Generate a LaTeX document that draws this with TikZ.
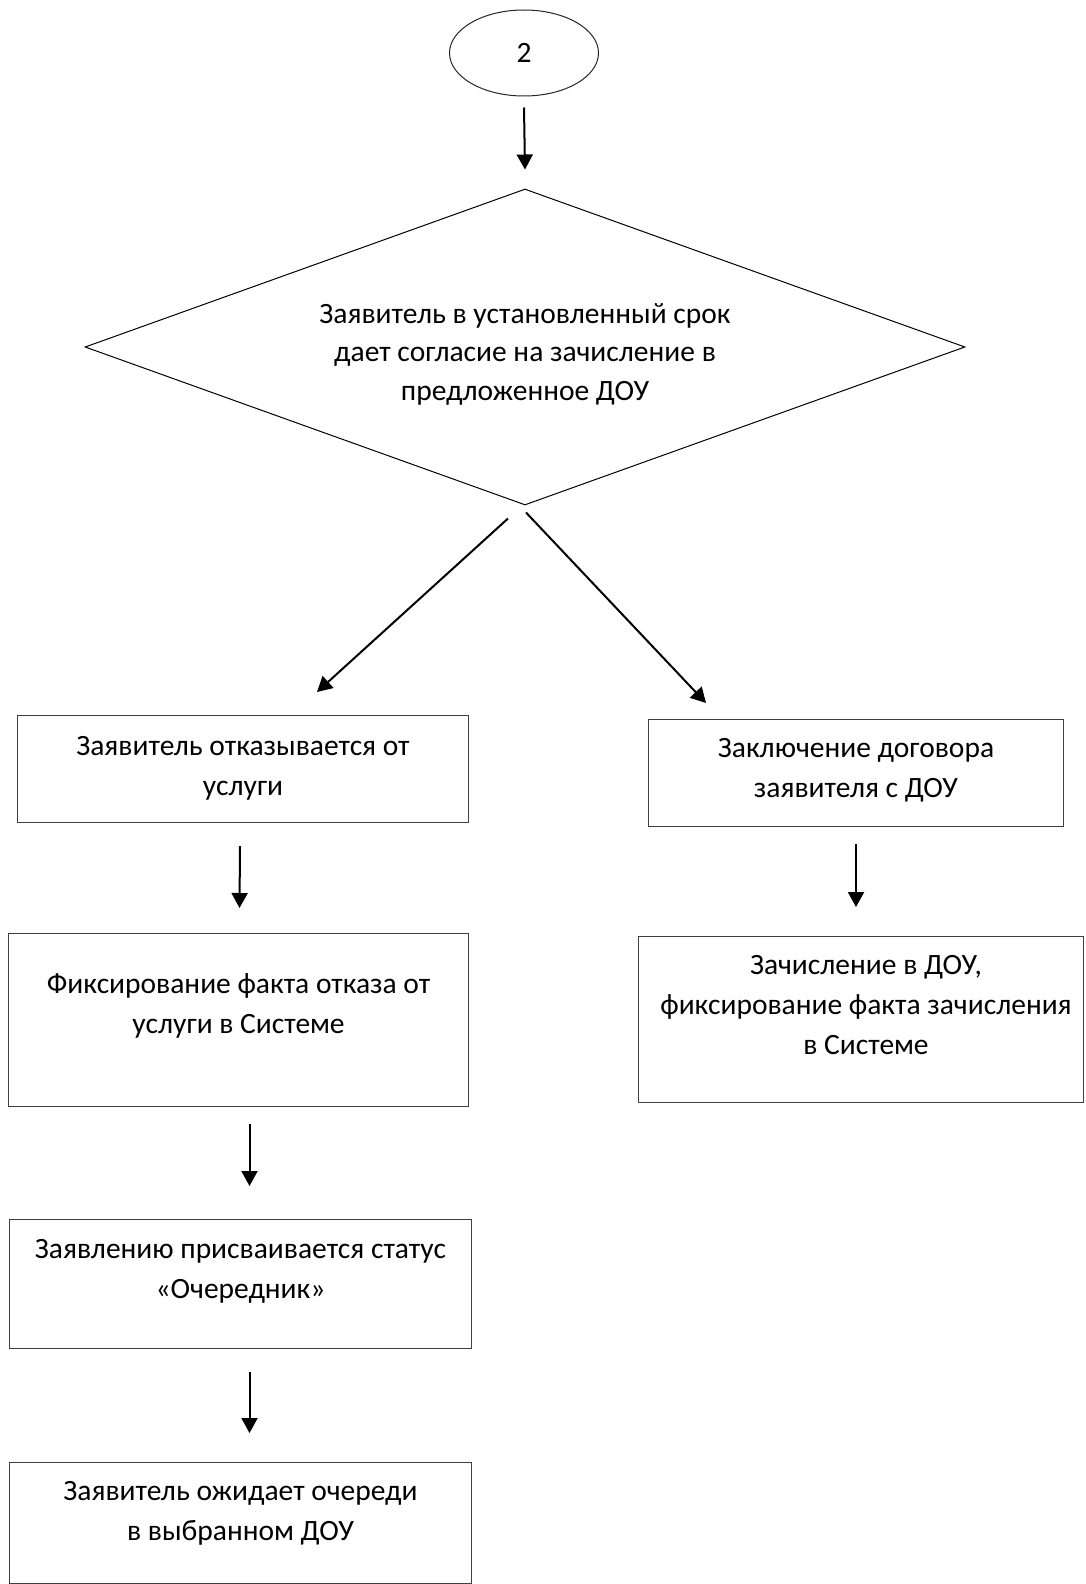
\documentclass[tikz,border=0pt]{standalone}
\usepackage{fontspec}
\setmainfont{Carlito}
\usetikzlibrary{shapes.geometric,arrows.meta}
\tikzset{
  box/.style={draw=black!75, line width=1pt, inner sep=0pt, anchor=north west},
  arr/.style={line width=2pt, -{Triangle[width=16pt,length=15pt]}},
}
% text of a box: width, height, first baseline, lines
\newcommand{\boxtext}[4]{\parbox[t][#2][t]{#1}{\centering\rule{0pt}{#3}#4}}

\begin{document}
\begin{tikzpicture}[x=1pt,y=-1pt,font=\fontsize{29.5}{40}\selectfont]
  \useasboundingbox (0,0) rectangle (1085,1584);
  \node[ellipse, draw=black!85, line width=1pt, minimum width=149pt, minimum height=86pt, inner sep=0pt] (start) at (524,53) {2};
  \node[diamond, draw, line width=1pt, aspect=2.78, minimum width=880pt, minimum height=316pt, inner sep=0pt,
        align=center, font=\fontsize{29.5}{38.5}\selectfont] (ask) at (525,347)
        {\rule{0pt}{34pt}Заявитель в установленный срок\\ дает согласие на зачисление в\\ предложенное ДОУ};
  % left branch
  \node[box] (refuse) at (17,715)  {\boxtext{451pt}{107pt}{40pt}{Заявитель отказывается от\\ услуги}};
  \node[box] (fix)    at (8,933)   {\boxtext{460pt}{173pt}{60pt}{Фиксирование факта отказа от\\ услуги в Системе}};
  \node[box] (queue)  at (9,1219)  {\boxtext{462pt}{129pt}{39pt}{Заявлению присваивается статус\\ «Очередник»}};
  \node[box] (wait)   at (9,1462)  {\boxtext{462pt}{121pt}{38pt}{Заявитель ожидает очереди\\ в выбранном ДОУ}};
  % right branch
  \node[box] (contract) at (648,719) {\boxtext{415pt}{107pt}{38pt}{Заключение договора\\ заявителя с ДОУ}};
  \node[box] (enrol)    at (638,936) {\boxtext{445pt}{166pt}{38pt}{\hspace*{10pt}Зачисление в ДОУ,\\ \hspace*{10pt}фиксирование факта зачисления\\ \hspace*{10pt}в Системе}};

  \draw[arr] ([yshift=-11pt]start.south) -- ([yshift=19pt]ask.north);
  \draw[arr] ([xshift=-17pt,yshift=-13pt]ask.south) -- ([xshift=74pt,yshift=23pt]refuse.north);
  \draw[arr] ([xshift=1pt,yshift=-7pt]ask.south) -- ([xshift=-150pt,yshift=16pt]contract.north);
  \draw[arr] ([xshift=-3pt,yshift=-23pt]refuse.south) -- ([xshift=1pt,yshift=25pt]fix.north);
  \draw[arr] ([xshift=11pt,yshift=-17pt]fix.south) -- ([xshift=9pt,yshift=33pt]queue.north);
  \draw[arr] ([xshift=9pt,yshift=-23pt]queue.south) -- ([xshift=9pt,yshift=29pt]wait.north);
  \draw[arr] ([yshift=-17pt]contract.south) -- ([xshift=-5pt,yshift=29pt]enrol.north);
\end{tikzpicture}
\end{document}
